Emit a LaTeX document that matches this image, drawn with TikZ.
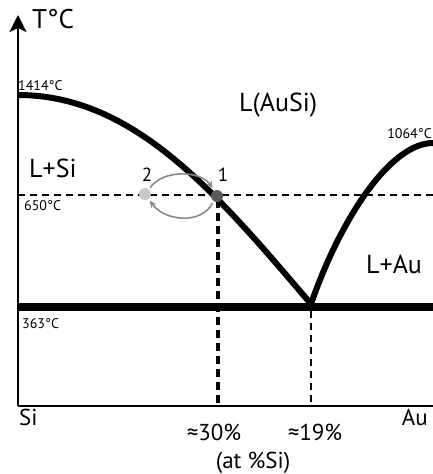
\documentclass[tikz,border=0pt]{standalone}
\usepackage{fontspec}
\setmainfont{PT Sans}
\usetikzlibrary{arrows.meta}
\definecolor{arcgray}{HTML}{8A8A8A}
\definecolor{dotdark}{HTML}{5A5A5A}
\definecolor{dotlight}{HTML}{C8C8C8}
\begin{document}
\begin{tikzpicture}[x=1pt,y=-1pt,
  phaselbl/.style={inner sep=0pt, anchor=base west, font=\fontsize{26}{28}\selectfont},
  axlbl/.style={inner sep=0pt, anchor=base west, font=\fontsize{23}{25}\selectfont},
  templbl/.style={inner sep=0pt, anchor=base west, font=\fontsize{14}{16}\selectfont},
  numlbl/.style={inner sep=0pt, anchor=base, font=\fontsize{19}{21}\selectfont},
  phaseline/.style={line width=6pt, line join=round},
  eutline/.style={line width=8.5pt},
  guide/.style={line width=2.5pt, dash pattern=on 7pt off 5pt},
  axisline/.style={line width=2.4pt},
  cyc/.style={draw=arcgray, line width=1.6pt, -{Stealth[length=7pt,width=6.5pt]}},
  dotnode/.style={circle, inner sep=0pt, minimum size=12pt}
]
\useasboundingbox (0,0) rectangle (433,474);

% key coordinates
\coordinate (orig) at (18,406);
\coordinate (xend) at (433,406);
\coordinate (ytip) at (18,15);
\coordinate (mSi) at (18,95);
\coordinate (eut) at (311,304);
\coordinate (mAu) at (433,143);
\coordinate (h650l) at (18,195);
\coordinate (h650r) at (433,195);
\coordinate (h363l) at (18,307);
\coordinate (h363r) at (433,307);
\coordinate (v30top) at (218,200);
\coordinate (v30bot) at (218,406);
\coordinate (v19top) at (311,311);
\coordinate (v19bot) at (311,406);

% dashed guides
\draw[guide] (h650l) -- (h650r);
\draw[guide, line width=3.2pt, dash pattern=on 8pt off 5pt] (v30top) -- (v30bot);
\draw[guide] (v19top) -- (v19bot);

% liquidus curves
\draw[phaseline] (mSi) .. controls (135,95) and (218,195) .. (eut)
                       .. controls (340,220) and (390,143) .. (mAu);
% eutectic line
\draw[eutline] (h363l) -- (h363r);

% axes
\draw[axisline] (orig) -- (xend);
\draw[axisline, -{Stealth[length=17pt,width=17pt,inset=4pt]}] (orig) -- (ytip);

% points
\node[dotnode, fill=dotlight] (p2) at (145,194) {};
\node[dotnode, fill=dotdark] (p1) at (217,196) {};

% cycle arrows
\draw[cyc, shorten <=2pt, shorten >=3pt] (p2.50) .. controls +(14,-20) and +(-14,-20) .. (p1.115);
\draw[cyc, shorten <=2pt, shorten >=2pt] (p1.235) .. controls +(-12,24) and +(16,22) .. (p2.305);

% labels
\node[numlbl] (n2) at (147,181) {2};
\node[numlbl] (n1) at (223,181) {1};

\node[inner sep=0pt, anchor=base west, font=\fontsize{27}{29}\selectfont] (tc) at (32,28) {T°C};
\node[phaselbl] (liq) at (239,111) {L(AuSi)};
\node[phaselbl] (lsi) at (29,177) {L+Si};
\node[phaselbl] (lau) at (366,273) {L+Au};

\node[templbl] (t1414) at (18,90) {1414°C};
\node[templbl, anchor=base east] (t1064) at (432,138) {1064°C};
\node[templbl] (t650) at (24,210) {650°C};
\node[templbl] (t363) at (22,328) {363°C};

\node[axlbl] (si) at (19,425) {Si};
\node[axlbl, anchor=base east] (au) at (428,425) {Au};
\node[axlbl, anchor=base] (c30) at (214,440) {≈30\%};
\node[axlbl, anchor=base] (c19) at (315,440) {≈19\%};
\node[axlbl, anchor=base] (unit) at (253,468) {(at \%Si)};
\end{tikzpicture}
\end{document}
